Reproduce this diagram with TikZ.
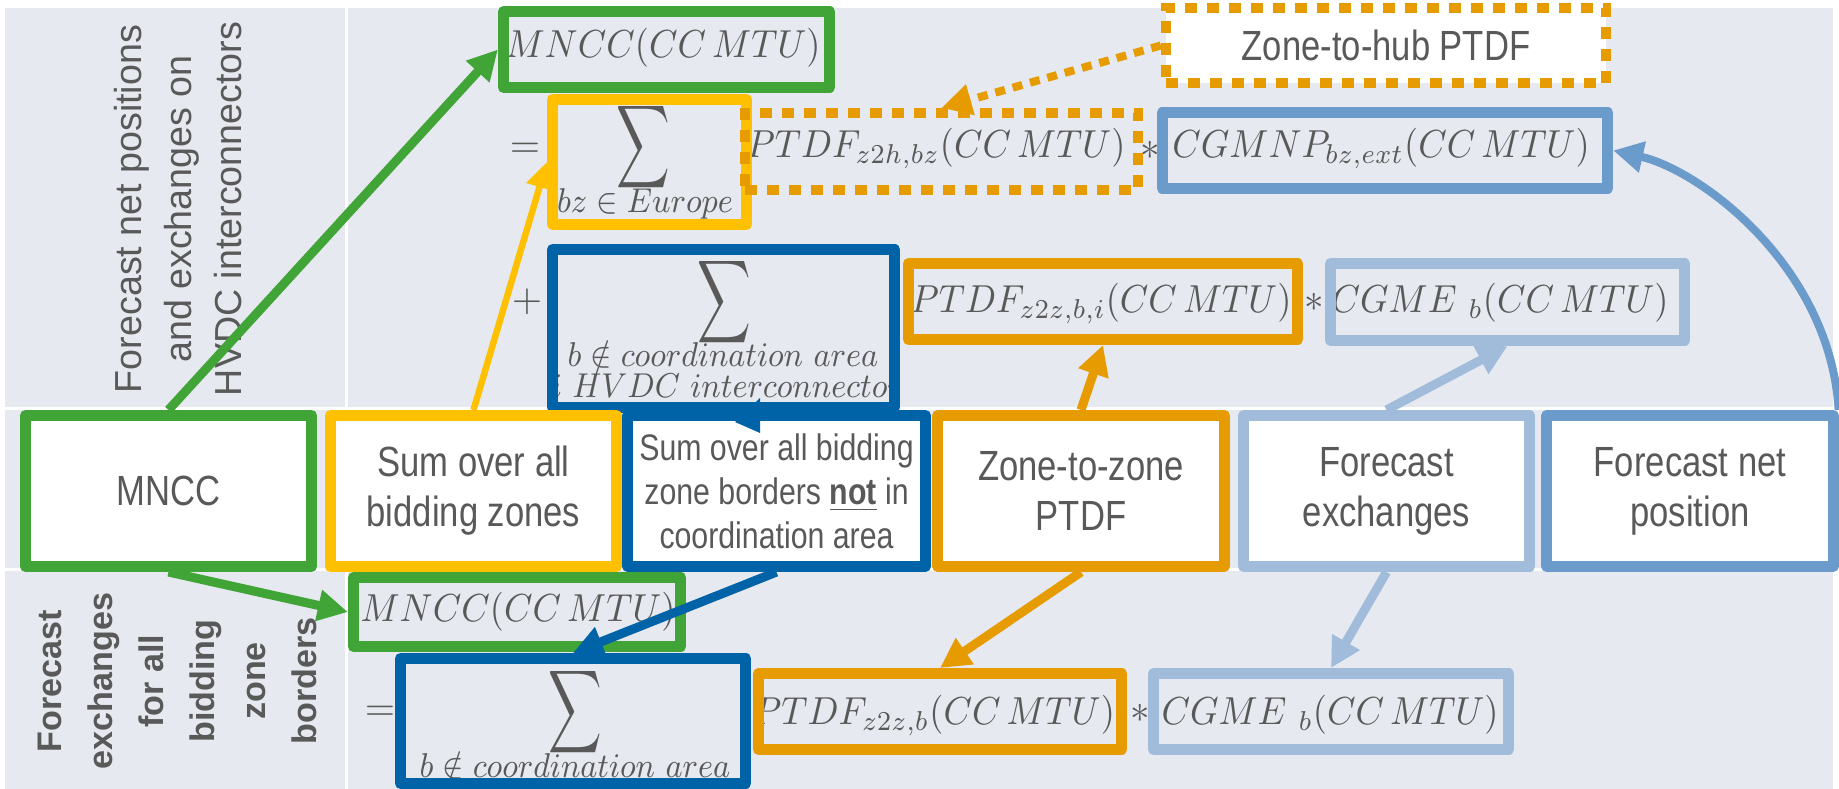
\documentclass[tikz,border=0pt]{standalone}
\usepackage{fix-cm}
\usepackage{amsmath}
\usepackage{amssymb}
\usepackage{graphicx}
\usepackage{fontspec}
\usepackage{tikz}
\usetikzlibrary{arrows.meta,positioning}

\newfontfamily\narrowsf[FakeStretch=0.82]{Liberation Sans}
\newfontfamily\arialsf{Liberation Sans}

\definecolor{bggray}{HTML}{E6E9F0}
\definecolor{txtgray}{HTML}{595959}
\definecolor{mnccgreen}{HTML}{41A436}
\definecolor{sumyellow}{HTML}{FFC000}
\definecolor{areablue}{HTML}{0063A8}
\definecolor{ptdforange}{HTML}{E69C00}
\definecolor{exchblue}{HTML}{A1BCDB}
\definecolor{npblue}{HTML}{6A9BCB}

\newcommand{\bigsum}{\scalebox{0.64}[1]{\fontsize{16.5}{18}\selectfont$\displaystyle\sum$}}
\newcommand{\fml}[1]{\scalebox{0.93}[1]{$#1$}}
\newcommand{\subfml}[1]{\scalebox{0.91}[1]{$#1$}}

\tikzset{
	formula/.style={text=txtgray, inner sep=0pt, font=\fontsize{11.1}{13}\selectfont},
	sublabel/.style={text=txtgray, inner sep=0pt, font=\fontsize{9.8}{11}\selectfont},
	eqbox/.style={draw=#1, line width=0.11cm, line join=round, inner sep=0pt},
	dotbox/.style={draw=ptdforange, line width=0.10cm, dash pattern=on 0.12cm off 0.10cm, inner sep=0pt},
	infobox/.style={draw=#1, fill=white, line width=0.11cm, line join=round, minimum width=2.86cm, minimum height=1.51cm, align=center, text=txtgray, font=\narrowsf\fontsize{12}{14.2}\selectfont},
	link/.style={draw=#1, line width=0.09cm, -{Triangle[length=0.30cm,width=0.30cm]}},
}

\begin{document}
\begin{tikzpicture}[x=0.01cm,y=-0.01cm]
	\useasboundingbox (0,0) rectangle (1839,789);
	% table background
	\fill[bggray] (5,8) rectangle (1833,789);
	\draw[white, line width=0.03cm] (346,8) -- (346,789);
	\draw[white, line width=0.03cm] (5,409) -- (1833,409);
	\draw[white, line width=0.03cm] (5,570) -- (1833,570);

	% row labels
	\node[rotate=90, align=center, text=txtgray, font=\arialsf\fontsize{10.7}{14.2}\selectfont] (rowTop) at (178,209) {Forecast net positions\\and exchanges on\\HVDC interconnectors};
	\node[rotate=90, align=center, text=txtgray, font=\arialsf\bfseries\fontsize{9.7}{14.5}\selectfont] (rowBot) at (177,681) {Forecast\\exchanges\\for all\\bidding\\zone\\borders};

	% formula, first line
	\node[formula, anchor=base] (tMnccA) at (663,58) {\fml{MNCC(CC\,MTU)}};
	\node[formula] (eqA) at (525,150) {$=$};
	\node[formula] (sigEu) at (643,147) {\bigsum};
	\node[sublabel, anchor=base] (subEu) at (645,213) {\subfml{bz\in Europe}};
	\node[formula, anchor=base] (tPtdfZh) at (936,158) {\fml{PTDF_{z2h,bz}(CC\,MTU)}};
	\node[formula] (mulA) at (1150,150) {$*$};
	\node[formula, anchor=base] (tCgmnp) at (1381,158) {\fml{CGMNP_{bz,ext}(CC\,MTU)}};
	\node[formula] (plusA) at (527,302) {$+$};
	\node[formula] (sigHvdc) at (724,302) {\bigsum};
	\begin{scope}
		\clip (553,250) rectangle (895,408);
		\node[sublabel, anchor=base] (subHvdcA) at (723,367) {\subfml{b\notin coordination\ area}};
		\node[sublabel, anchor=base] (subHvdcB) at (727,398) {\subfml{i\ HVDC\ interconnector}};
	\end{scope}
	\node[formula, anchor=base] (tPtdfZzA) at (1101,313) {\fml{PTDF_{z2z,b,i}(CC\,MTU)}};
	\node[formula] (mulB) at (1314,302) {$*$};
	\node[formula, anchor=base] (tCgmeA) at (1500,313) {\fml{CGME\ {}_b(CC\,MTU)}};

	% formula, second line
	\node[formula, anchor=base] (tMnccB) at (518,622) {\fml{MNCC(CC\,MTU)}};
	\node[formula] (eqB) at (380,713) {$=$};
	\node[formula] (sigCa) at (575,712) {\bigsum};
	\node[sublabel, anchor=base] (subCa) at (575,778) {\subfml{b\notin coordination\ area}};
	\node[formula, anchor=base] (tPtdfZzB) at (934,725) {\fml{PTDF_{z2z,b}(CC\,MTU)}};
	\node[formula] (mulC) at (1140,713) {$*$};
	\node[formula, anchor=base] (tCgmeB) at (1330,725) {\fml{CGME\ {}_b(CC\,MTU)}};

	% frames round the terms
	\node[eqbox=mnccgreen, minimum width=3.26cm, minimum height=0.76cm] (mnccA) at (666.5,49.5) {};
	\node[eqbox=sumyellow, minimum width=1.94cm, minimum height=1.25cm] (sumEu) at (649.5,162) {};
	\node[dotbox, minimum width=3.93cm, minimum height=0.77cm] (ptdfZh) at (941.5,151.5) {};
	\node[eqbox=npblue, minimum width=4.45cm, minimum height=0.76cm] (cgmnp) at (1385,150.5) {};
	\node[eqbox=areablue, minimum width=3.42cm, minimum height=1.58cm] (sumHvdc) at (723.5,328.5) {};
	\node[eqbox=ptdforange, minimum width=3.89cm, minimum height=0.76cm] (ptdfZzA) at (1103,301.5) {};
	\node[eqbox=exchblue, minimum width=3.54cm, minimum height=0.77cm] (cgmeA) at (1507.5,302) {};
	\node[dotbox, fill=white, minimum width=4.40cm, minimum height=0.75cm, text=txtgray, font=\narrowsf\fontsize{12}{14}\selectfont] (zoneHub) at (1386,45.5) {Zone-to-hub PTDF};
	\node[eqbox=mnccgreen, minimum width=3.27cm, minimum height=0.69cm] (mnccB) at (517,612) {};
	\node[eqbox=areablue, minimum width=3.45cm, minimum height=1.25cm] (sumCa) at (573,721) {};
	\node[eqbox=ptdforange, minimum width=3.63cm, minimum height=0.76cm] (ptdfZzB) at (940,711.5) {};
	\node[eqbox=exchblue, minimum width=3.55cm, minimum height=0.76cm] (cgmeB) at (1331,711.5) {};

	% explanation boxes
	\node[infobox=mnccgreen] (mncc) at (168.5,491) {MNCC};
	\node[infobox=sumyellow] (sumBz) at (473.5,491) {Sum over all\\bidding zones};
	\node[infobox=areablue, font=\narrowsf\fontsize{10.5}{12.5}\selectfont] (sumNot) at (776.5,491) {Sum over all bidding\\zone borders \textbf{\underline{not}} in\\coordination area};
	\node[infobox=ptdforange] (zToZ) at (1081,491) {Zone-to-zone\\PTDF};
	\node[infobox=exchblue] (fcExch) at (1386.5,491) {Forecast\\exchanges};
	\node[infobox=npblue] (fcNp) at (1690,491) {Forecast net\\position};
	\fill[areablue] (735,422) -- (760,433) -- (760,398) -- cycle;

	% arrows
	\draw[link=mnccgreen] (mncc.north) -- (mnccA.west);
	\draw[link=sumyellow, line width=0.065cm, -{Triangle[length=0.26cm,width=0.26cm]}] (sumBz.north) -- (sumEu.west);
	\draw[link=ptdforange] (zToZ.north) -- (ptdfZzA.south);
	\draw[link=exchblue] (fcExch.north) -- (cgmeA.south);
	\draw[link=npblue, line width=0.08cm] (fcNp.north east) .. controls (1830,266) and (1700,170) .. (cgmnp.east);
	\draw[link=ptdforange, line width=0.08cm, dash pattern=on 0.10cm off 0.08cm] (zoneHub.west) -- (ptdfZh.north);
	\draw[link=mnccgreen] (mncc.south) -- (mnccB.west);
	\draw[link=areablue] (sumNot.south) -- (sumCa.north);
	\draw[link=ptdforange] (zToZ.south) -- (ptdfZzB.north);
	\draw[link=exchblue] (fcExch.south) -- (cgmeB.north);
\end{tikzpicture}
\end{document}
